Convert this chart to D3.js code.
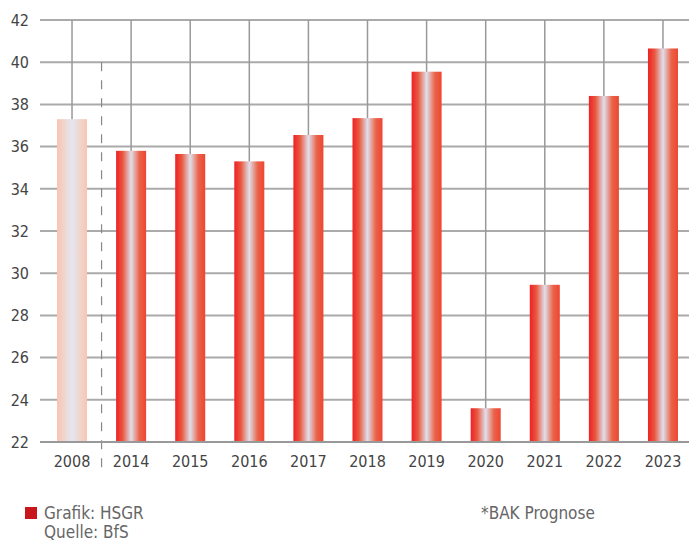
<!DOCTYPE html>
<html>
<head>
<meta charset="utf-8">
<script src="https://cdn.jsdelivr.net/npm/d3@7"></script>
<style>
  body { margin: 0; background: #fff; }
  svg text { font-family: "DejaVu Sans Condensed", "Liberation Sans", sans-serif; fill: #444; }
</style>
</head>
<body>
<div id="chart"></div>
<script>
var years = ["2008", "2014", "2015", "2016", "2017", "2018", "2019", "2020", "2021", "2022", "2023"];
var values = [37.3, 35.8, 35.65, 35.3, 36.55, 37.35, 39.55, 23.6, 29.45, 38.4, 40.65];
var yTicks = [22, 24, 26, 28, 30, 32, 34, 36, 38, 40, 42];

var width = 689, height = 542;
var margin = {top: 20, right: 0, bottom: 100, left: 42};
var innerW = width - margin.left - margin.right;
var innerH = height - margin.top - margin.bottom;

var svg = d3.select("#chart").append("svg")
    .attr("width", width)
    .attr("height", height);

// gradients for the bars
var defs = svg.append("defs");
function addGrad(id, stops) {
    var g = defs.append("linearGradient").attr("id", id)
        .attr("x1", "0%").attr("x2", "100%").attr("y1", "0%").attr("y2", "0%");
    stops.forEach(function (s) {
        g.append("stop").attr("offset", s[0]).attr("stop-color", s[1]);
    });
}
addGrad("barRed", [["0%", "#ee2126"], ["22%", "#e9583f"], ["50%", "#dfdfeb"], ["78%", "#ea6248"], ["100%", "#ee4632"]]);
addGrad("barPale", [["0%", "#f9c4b0"], ["50%", "#e5e6f0"], ["100%", "#f8c6b2"]]);

var g = svg.append("g").attr("transform", "translate(" + margin.left + "," + margin.top + ")");

var x = d3.scaleBand().domain(years).range([0, 651]).paddingInner(0.492).paddingOuter(0.254);
var y = d3.scaleLinear().domain([22, 42]).range([innerH, 0]);

// horizontal gridlines
g.selectAll(".hgrid").data(yTicks).enter().append("line")
    .attr("x1", -2).attr("x2", innerW)
    .attr("y1", function (d) { return y(d); })
    .attr("y2", function (d) { return y(d); })
    .attr("stroke", "#aaa").attr("stroke-width", 2);

// vertical gridlines at bar centers
g.selectAll(".vgrid").data(years).enter().append("line")
    .attr("x1", function (d) { return x(d) + x.bandwidth() / 2; })
    .attr("x2", function (d) { return x(d) + x.bandwidth() / 2; })
    .attr("y1", 0).attr("y2", innerH)
    .attr("stroke", "#999").attr("stroke-width", 1.5);

// dashed separator between 2008 and 2014
var sepX = (x("2008") + x.bandwidth() + x("2014")) / 2;
g.append("line")
    .attr("x1", sepX).attr("x2", sepX)
    .attr("y1", y(40)).attr("y2", innerH + 34)
    .attr("stroke", "#888").attr("stroke-width", 1.2)
    .attr("stroke-dasharray", "9,9");

// bars
g.selectAll(".bar").data(values).enter().append("rect")
    .attr("x", function (d, i) { return x(years[i]); })
    .attr("y", function (d) { return y(d); })
    .attr("width", x.bandwidth())
    .attr("height", function (d) { return innerH - y(d); })
    .attr("fill", function (d, i) { return i === 0 ? "url(#barPale)" : "url(#barRed)"; });

// bottom axis line
g.append("line")
    .attr("x1", -2).attr("x2", innerW)
    .attr("y1", innerH).attr("y2", innerH)
    .attr("stroke", "#999").attr("stroke-width", 2);

// y labels
g.selectAll(".ylab").data(yTicks).enter().append("text")
    .attr("x", -13)
    .attr("y", function (d) { return y(d); })
    .attr("dy", "0.36em")
    .attr("text-anchor", "end")
    .style("font-size", "16px")
    .text(function (d) { return d; });

// x labels
g.selectAll(".xlab").data(years).enter().append("text")
    .attr("x", function (d) { return x(d) + x.bandwidth() / 2; })
    .attr("y", innerH + 25)
    .attr("text-anchor", "middle")
    .style("font-size", "16px")
    .text(function (d) { return d; });

// legend / notes
svg.append("rect").attr("x", 25).attr("y", 507).attr("width", 12).attr("height", 12).attr("fill", "#c8161d");
svg.append("text").attr("x", 44).attr("y", 519).style("font-size", "17px").style("fill", "#666").text("Grafik: HSGR");
svg.append("text").attr("x", 44).attr("y", 538).style("font-size", "17px").style("fill", "#666").text("Quelle: BfS");
svg.append("text").attr("x", 481).attr("y", 519).style("font-size", "17px").style("fill", "#666").text("*BAK Prognose");
</script>
</body>
</html>
